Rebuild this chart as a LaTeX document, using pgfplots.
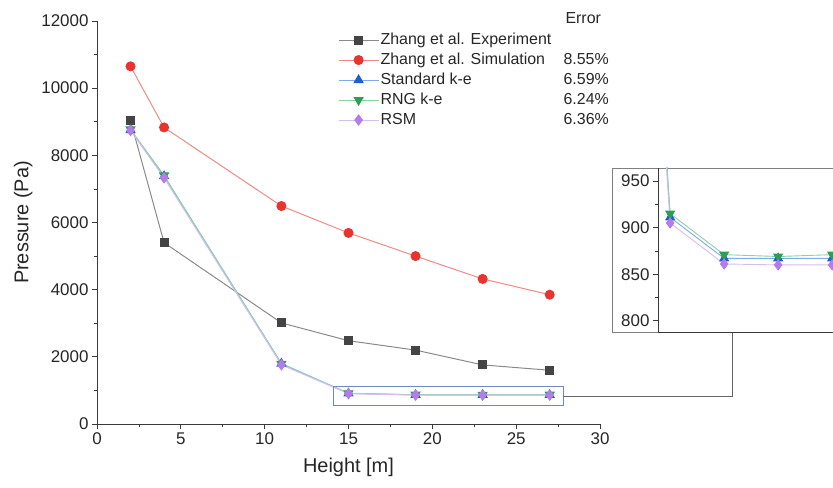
\documentclass[border=0pt]{standalone}
\usepackage{pgfplots}
\pgfplotsset{compat=1.18}
\usepackage{pgfplotstable}
\usepackage{fontspec}
\setmainfont{Liberation Sans}
\definecolor{expM}{HTML}{444444}\definecolor{expL}{HTML}{8A8A8A}
\definecolor{simM}{HTML}{E8332F}\definecolor{simL}{HTML}{F08A88}
\definecolor{stdM}{HTML}{1A5FD4}\definecolor{stdL}{HTML}{7FA9EE}
\definecolor{rngM}{HTML}{2E9E55}\definecolor{rngL}{HTML}{86D3A4}
\definecolor{rsmM}{HTML}{B57BE8}\definecolor{rsmL}{HTML}{D9BCF2}
\definecolor{axc}{HTML}{3A3A3A}
\pgfplotstableread{
x y
2 9030
4 5400
11 3010
15 2480
19 2200
23 1760
27 1600
}\expdata
\pgfplotstableread{
x y
2 10650
4 8830
11 6490
15 5690
19 5000
23 4320
27 3850
}\simdata
\pgfplotstableread{
x y
2 8750
4 7380
11 1800
15 911
19 867
23 867
27 867
}\stddata
\pgfplotstableread{
x y
2 8770
4 7400
11 1790
15 915
19 871
23 869
27 871
}\rngdata
\pgfplotstableread{
x y
2 8740
4 7330
11 1760
15 905
19 861
23 860
27 860
}\rsmdata
\begin{document}
\begin{tikzpicture}
\useasboundingbox (0,0) rectangle (833bp,488bp);
\pgfplotsset{
  every axis/.append style={
    scale only axis,
    axis line style={axc, line width=0.9bp},
    tick style={axc, line width=0.8bp},
    major tick length=5bp, minor tick length=3bp,
    tick align=outside,
    scaled ticks=false,
    ticklabel style={font=\fontsize{17}{18}\selectfont, text=black!85},
    /pgf/number format/assume math mode=true,
    /pgf/number format/1000 sep={},
  },
}
\begin{axis}[
  at={(97bp,64bp)}, anchor=south west,
  width=503bp, height=403bp,
  xmin=0, xmax=30, ymin=0, ymax=12000,
  axis lines*=left,
  xtick={0,5,...,30}, minor x tick num=1,
  ytick={0,2000,...,12000}, minor y tick num=1,
  xlabel={Height [m]}, ylabel={Pressure (Pa)},
  label style={font=\fontsize{20}{22}\selectfont, text=black!85},
  xlabel style={yshift=-7bp},
  ylabel style={yshift=2bp},
  legend cell align=left,
  legend style={at={(0.473,0.983)}, anchor=north west, draw=none, fill=none,
    font=\fontsize{16}{19}\selectfont, text=black!85,
    nodes={inner sep=1.5bp, text height=12.5bp, text depth=4.5bp},
    row sep=0pt},
  legend image code/.code={\draw[mark repeat=2,mark phase=2,#1] plot coordinates {(0bp,0bp) (20bp,0bp) (40bp,0bp)};},
  every axis plot/.append style={line width=1bp},
]
\addplot[expL, mark=square*, mark size=4bp, mark options={expM, fill=expM}] table {\expdata};
\addlegendentry{Zhang et al. Experiment}
\addplot[simL, mark=*, mark size=4.5bp, mark options={simM, fill=simM}] table {\simdata};
\addlegendentry{\makebox[183bp][l]{Zhang et al. Simulation}8.55\%}
\addplot[stdL, mark=triangle*, mark size=5bp, mark options={stdM, fill=stdM}] table {\stddata};
\addlegendentry{\makebox[183bp][l]{Standard k-e}6.59\%}
\addplot[rngL, mark=triangle*, mark size=5bp, mark options={rngM, fill=rngM, rotate=180}] table {\rngdata};
\addlegendentry{\makebox[183bp][l]{RNG k-e}6.24\%}
\addplot[rsmL, mark=diamond*, mark size=5bp, mark options={rsmM, fill=rsmM}] table {\rsmdata};
\addlegendentry{\makebox[183bp][l]{RSM}6.36\%}
\end{axis}
\node[anchor=west, font=\fontsize{16}{19}\selectfont, text=black!85] at (562bp,470bp) {Error};
% zoom rectangle and connector
\draw[color={rgb,255:red,110;green,138;blue,184}, line width=0.9bp] (333bp,83bp) rectangle (563bp,102bp);
\draw[color=gray!80!black, line width=0.9bp] (563bp,92bp) -- (732bp,92bp) -- (732bp,156bp);
% inset frame
\draw[color=gray, line width=0.9bp] (612bp,156bp) rectangle (870bp,320bp);
\begin{axis}[
  at={(658bp,156bp)}, anchor=south west,
  width=194.4bp, height=164bp,
  xmin=14.1, xmax=28.5, ymin=788, ymax=964,
  axis lines*=left,
  xtick=\empty,
  ytick={800,850,900,950}, minor y tick num=1,
  every axis plot/.append style={line width=0.9bp},
]
\addplot[stdL, mark=triangle*, mark size=5bp, mark options={stdM, fill=stdM}] table {\stddata};
\addplot[rngL, mark=triangle*, mark size=5bp, mark options={rngM, fill=rngM, rotate=180}] table {\rngdata};
\addplot[rsmL, mark=diamond*, mark size=5bp, mark options={rsmM, fill=rsmM}] table {\rsmdata};
\end{axis}
\end{tikzpicture}
\end{document}
